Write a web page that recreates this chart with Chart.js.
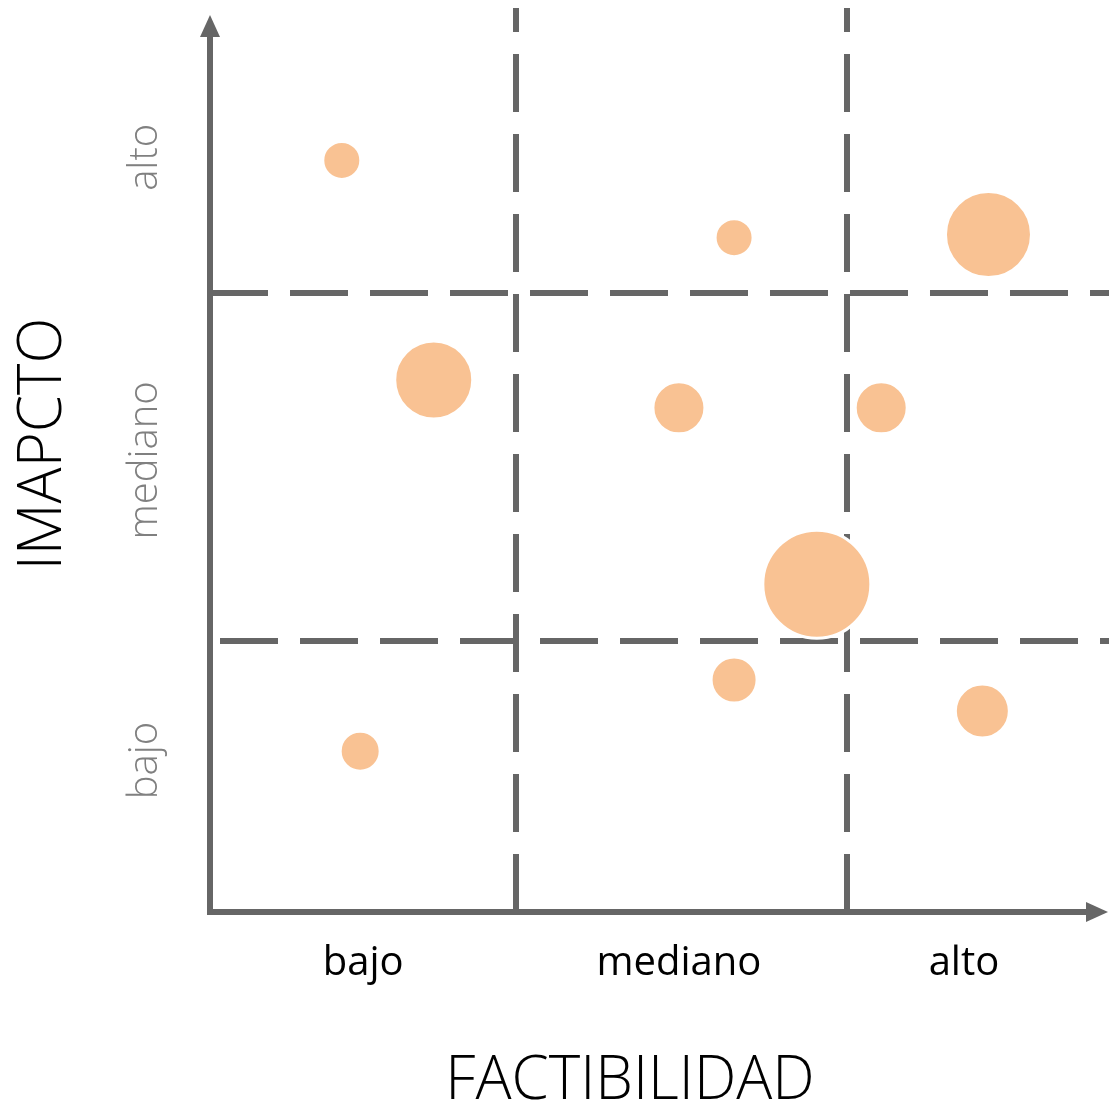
<!DOCTYPE html>
<html>
<head>
<meta charset="utf-8">
<script src="https://cdn.jsdelivr.net/npm/chart.js@4"></script>
<style>
  html, body { margin: 0; padding: 0; background: #fff; }
  #wrap { width: 1109px; height: 1108px; }
</style>
</head>
<body>
<div id="wrap"><canvas id="matrix"></canvas></div>
<script>
// Datos de la matriz (factibilidad x impacto)
const factibilidad = [0.43, 1.71, 2.54, 0.73, 1.53, 2.19, 1.98, 1.71, 2.52, 0.49];
const impacto      = [2.43, 2.18, 2.19, 1.72, 1.63, 1.63, 1.06, 0.75, 0.65, 0.52];
const tamano       = [19, 19, 43, 39, 26, 26, 54, 23, 27, 20];

// Etiquetas de los ejes
const nivelesX = ['bajo', 'mediano', 'alto'];
const posicionesX = [0.5, 1.53, 2.46];
const nivelesY = ['bajo', 'mediano', 'alto'];
const posicionesY = [0.49, 1.46, 2.44];

// Divisiones de cuadrantes
const divisionesX = [1, 2.08];
const divisionesY = [0.875, 2];

const GRIS = '#666666';

const puntos = factibilidad.map((x, i) => ({ x: x, y: impacto[i], r: tamano[i] }));

// Plugin para dibujar ejes, flechas, lineas punteadas y etiquetas
const matrizPlugin = {
    id: 'matriz',
    beforeDatasetsDraw(chart) {
        const ctx = chart.ctx;
        const xs = chart.scales.x;
        const ys = chart.scales.y;
        const area = chart.chartArea;
        ctx.save();
        ctx.strokeStyle = GRIS;
        ctx.lineWidth = 6;
        ctx.setLineDash([58, 22]);

        // lineas verticales
        divisionesX.forEach(v => {
            const px = Math.round(xs.getPixelForValue(v));
            ctx.beginPath();
            ctx.moveTo(px, area.bottom);
            ctx.lineTo(px, 8);
            ctx.stroke();
        });
        // lineas horizontales
        divisionesY.forEach((v, i) => {
            const py = Math.round(ys.getPixelForValue(v));
            ctx.beginPath();
            ctx.moveTo(area.left + (i === 0 ? 10 : 0), py);
            ctx.lineTo(chart.width, py);
            ctx.stroke();
        });

        // ejes
        ctx.setLineDash([]);
        ctx.beginPath();
        ctx.moveTo(area.left, area.bottom + 3);
        ctx.lineTo(area.left, area.top + 18);
        ctx.moveTo(area.left, area.bottom);
        ctx.lineTo(area.right - 18, area.bottom);
        ctx.stroke();

        // flechas
        ctx.fillStyle = GRIS;
        ctx.beginPath();
        ctx.moveTo(area.left, area.top);
        ctx.lineTo(area.left - 10, area.top + 22);
        ctx.lineTo(area.left + 10, area.top + 22);
        ctx.closePath();
        ctx.fill();
        ctx.beginPath();
        ctx.moveTo(area.right, area.bottom);
        ctx.lineTo(area.right - 22, area.bottom - 10);
        ctx.lineTo(area.right - 22, area.bottom + 10);
        ctx.closePath();
        ctx.fill();

        // etiquetas eje x
        ctx.fillStyle = '#000';
        ctx.font = '40px "Open Sans"';
        ctx.textAlign = 'center';
        ctx.textBaseline = 'middle';
        nivelesX.forEach((t, i) => {
            ctx.fillText(t, xs.getPixelForValue(posicionesX[i]), 964);
        });
        ctx.font = '300 60px "Open Sans"';
        ctx.fillText('FACTIBILIDAD', 630, 1082);

        // etiquetas eje y
        ctx.fillStyle = '#808080';
        ctx.font = '300 40px "Open Sans"';
        nivelesY.forEach((t, i) => {
            ctx.save();
            ctx.translate(146, ys.getPixelForValue(posicionesY[i]));
            ctx.rotate(-Math.PI / 2);
            ctx.fillText(t, 0, 0);
            ctx.restore();
        });
        ctx.fillStyle = '#000';
        ctx.font = '300 60px "Open Sans"';
        ctx.save();
        ctx.translate(44, 444);
        ctx.rotate(-Math.PI / 2);
        ctx.fillText('IMAPCTO', 0, 0);
        ctx.restore();

        ctx.restore();
    }
};

new Chart(document.getElementById('matrix').getContext('2d'), {
    type: 'bubble',
    data: {
        datasets: [{
            data: puntos,
            backgroundColor: '#f9c293',
            borderColor: '#ffffff',
            borderWidth: 3,
            hoverBorderWidth: 3
        }]
    },
    options: {
        responsive: true,
        maintainAspectRatio: false,
        animation: false,
        layout: {
            autoPadding: false,
            padding: { left: 210, right: 1, top: 15, bottom: 196 }
        },
        plugins: {
            legend: { display: false },
            tooltip: { enabled: false }
        },
        scales: {
            x: {
                type: 'linear',
                min: 0,
                max: 2.93,
                display: false
            },
            y: {
                type: 'linear',
                min: 0,
                max: 2.9,
                display: false
            }
        }
    },
    plugins: [matrizPlugin]
});
</script>
</body>
</html>
